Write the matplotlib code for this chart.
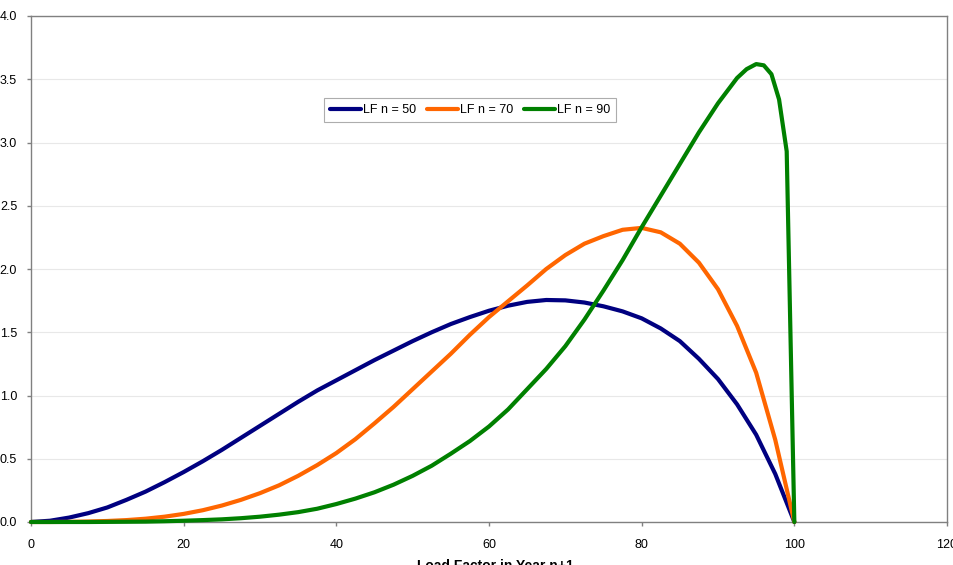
#!/usr/bin/env python3
"""Load factor distributions for year n+1 (LF n = 50 / 70 / 90)."""

import matplotlib
matplotlib.use("Agg")
import matplotlib.pyplot as plt

# ---------- Data ------------------------------------------------------------

x_std = [0, 2.5, 5, 7.5, 10, 12.5, 15, 17.5, 20, 22.5, 25, 27.5, 30, 32.5,
         35, 37.5, 40, 42.5, 45, 47.5, 50, 52.5, 55, 57.5, 60, 62.5, 65,
         67.5, 70, 72.5, 75, 77.5, 80, 82.5, 85, 87.5, 90, 92.5, 95, 97.5,
         100]

lf50 = [0.0, 0.01, 0.035, 0.07, 0.115, 0.175, 0.24, 0.315, 0.395, 0.48,
        0.57, 0.665, 0.76, 0.855, 0.95, 1.04, 1.12, 1.20, 1.28, 1.355, 1.43,
        1.50, 1.565, 1.62, 1.67, 1.71, 1.74, 1.755, 1.752, 1.735, 1.705,
        1.665, 1.61, 1.53, 1.43, 1.29, 1.13, 0.93, 0.69, 0.38, 0.0]

lf70 = [0.0, 0.0, 0.001, 0.004, 0.008, 0.015, 0.026, 0.042, 0.064, 0.093,
        0.13, 0.175, 0.228, 0.29, 0.365, 0.45, 0.545, 0.655, 0.78, 0.91,
        1.05, 1.19, 1.33, 1.48, 1.62, 1.745, 1.87, 2.0, 2.11, 2.20, 2.26,
        2.31, 2.325, 2.29, 2.20, 2.05, 1.84, 1.55, 1.18, 0.65, 0.0]

x_90 = [0, 2.5, 5, 7.5, 10, 12.5, 15, 17.5, 20, 22.5, 25, 27.5, 30, 32.5,
        35, 37.5, 40, 42.5, 45, 47.5, 50, 52.5, 55, 57.5, 60, 62.5, 65,
        67.5, 70, 72.5, 75, 77.5, 80, 82.5, 85, 87.5, 90, 92.5, 93.75, 95,
        96, 97, 98, 99, 100]

lf90 = [0.0, 0.0, 0.0, 0.0, 0.001, 0.002, 0.003, 0.006, 0.01, 0.015, 0.021,
        0.03, 0.042, 0.058, 0.078, 0.105, 0.142, 0.185, 0.235, 0.295, 0.365,
        0.445, 0.54, 0.64, 0.755, 0.89, 1.05, 1.21, 1.39, 1.60, 1.83, 2.07,
        2.33, 2.58, 2.83, 3.08, 3.31, 3.51, 3.58, 3.62, 3.61, 3.54, 3.34,
        2.93, 0.0]

series = [
    ("LF n = 50", x_std, lf50, "#000080"),
    ("LF n = 70", x_std, lf70, "#FF6600"),
    ("LF n = 90", x_90, lf90, "#008000"),
]

x_ticks = [0, 20, 40, 60, 80, 100, 120]
y_ticks = [0.0, 0.5, 1.0, 1.5, 2.0, 2.5, 3.0, 3.5, 4.0]

# ---------- Plot -------------------------------------------------------------

plt.rcParams["font.family"] = ["Liberation Sans", "DejaVu Sans"]

fig = plt.figure(figsize=(9.54, 5.65), dpi=100)
ax = fig.add_axes([31 / 954, 1 - 522 / 565, 916 / 954, 506 / 565])

for label, xs, ys, colour in series:
    ax.plot(xs, ys, color=colour, linewidth=3.0, label=label,
            solid_joinstyle="round", solid_capstyle="round",
            clip_on=False, zorder=3)

ax.set_xlim(0, 120)
ax.set_ylim(0, 4.0)
ax.set_xticks(x_ticks, [str(t) for t in x_ticks])
ax.set_yticks(y_ticks, [f"{t:.1f}" for t in y_ticks])
ax.tick_params(axis="both", labelsize=9, colors="#808080", labelcolor="black",
               length=3, width=1, direction="out")
ax.tick_params(axis="x", pad=9.5)
ax.tick_params(axis="y", pad=7)

ax.grid(axis="y", color="#e8e8e8", linewidth=0.8, zorder=0)
ax.set_axisbelow(True)
for s in ax.spines.values():
    s.set_color("#808080")
    s.set_linewidth(1.0)

leg = ax.legend(loc="center", bbox_to_anchor=(0.4793, 0.814), ncol=3,
                fontsize=9, frameon=True, fancybox=False, handlelength=2.5,
                handletextpad=0.1, columnspacing=0.9, borderpad=0.5)
leg.get_frame().set_edgecolor("#999999")
leg.get_frame().set_linewidth(0.8)

fig.text(495 / 954, 1 - 559.5 / 565, "Load Factor in Year n+1", ha="center",
         va="top", fontsize=10, fontweight="bold")

fig.savefig("out.png", dpi=100)
